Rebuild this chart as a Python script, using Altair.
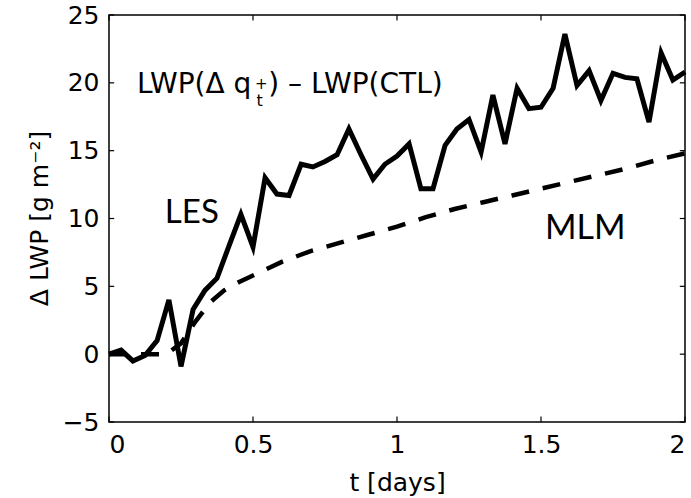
import altair as alt
import pandas as pd

# LES: LWP(dq+) - LWP(CTL), hourly values
les_t = [0, 0.042, 0.083, 0.125, 0.167, 0.208, 0.25, 0.292, 0.333, 0.375, 0.417, 0.458,
         0.5, 0.542, 0.583, 0.625, 0.667, 0.708, 0.75, 0.792, 0.833, 0.875, 0.917, 0.958,
         1.0, 1.042, 1.083, 1.125, 1.167, 1.208, 1.25, 1.292, 1.333, 1.375, 1.417, 1.458,
         1.5, 1.542, 1.583, 1.625, 1.667, 1.708, 1.75, 1.792, 1.833, 1.875, 1.917, 1.958, 2.0]
les_v = [0, 0.3, -0.5, -0.1, 1.0, 4.0, -0.9, 3.3, 4.7, 5.6, 8.0, 10.3,
         7.9, 13.0, 11.8, 11.7, 14.0, 13.8, 14.2, 14.7, 16.6, 14.7, 12.9, 14.0,
         14.6, 15.5, 12.2, 12.2, 15.4, 16.6, 17.3, 14.9, 19.1, 15.5, 19.6, 18.1,
         18.2, 19.6, 23.6, 19.8, 20.9, 18.7, 20.7, 20.4, 20.3, 17.1, 22.2, 20.2, 20.8]

# MLM curve
mlm_t = [0, 0.1, 0.2, 0.25, 0.3, 0.35, 0.4, 0.45, 0.5, 0.6, 0.7, 0.8, 0.9, 1.0,
         1.1, 1.2, 1.3, 1.4, 1.5, 1.6, 1.7, 1.8, 1.9, 2.0]
mlm_v = [0, 0, 0, 0.8, 2.4, 3.8, 4.7, 5.3, 5.8, 6.8, 7.6, 8.2, 8.8, 9.4,
         10.1, 10.7, 11.2, 11.7, 12.2, 12.7, 13.2, 13.7, 14.3, 14.8]

x_ticks = [0, 0.5, 1, 1.5, 2]
y_ticks = [-5, 0, 5, 10, 15, 20, 25]

les = pd.DataFrame({"t": les_t, "v": les_v})
mlm = pd.DataFrame({"t": mlm_t, "v": mlm_v})

xs = alt.Scale(domain=[0, 2], nice=False, zero=False)
ys = alt.Scale(domain=[-5, 25], nice=False, zero=False)

lab = "replace(toString(datum.value), '-', '\u2212')"

base_x = alt.X("t:Q", scale=xs,
               axis=alt.Axis(values=x_ticks, labelExpr=lab, title="t [days]",
                             titleY=68, titleBaseline="alphabetic", labelPadding=10))
base_y = alt.Y("v:Q", scale=ys,
               axis=alt.Axis(values=y_ticks, labelExpr=lab, title="\u0394 LWP [g m\u207b\u00b2]",
                             titleX=-70, titleY=203, titleBaseline="middle", titleAlign="center",
                             labelPadding=10))

les_line = alt.Chart(les).mark_line(color="black", strokeWidth=5, strokeJoin="miter").encode(
    x=base_x, y=base_y)
mlm_line = alt.Chart(mlm).mark_line(color="black", strokeWidth=4.5, strokeDash=[18, 14]).encode(
    x="t:Q", y="v:Q")

# inward tick marks on all four sides (MATLAB box style)
xt = pd.DataFrame({"t": x_ticks})
yt = pd.DataFrame({"v": y_ticks})
tk = 0.4  # tick length in y units
tkx = 0.018  # tick length in x units
xb = alt.Chart(xt).mark_rule(color="black", strokeWidth=1.2).encode(
    x="t:Q", y=alt.datum(-5), y2=alt.datum(-5 + tk))
xtop = alt.Chart(xt).mark_rule(color="black", strokeWidth=1.2).encode(
    x="t:Q", y=alt.datum(25), y2=alt.datum(25 - tk))
yl = alt.Chart(yt).mark_rule(color="black", strokeWidth=1.2).encode(
    y="v:Q", x=alt.datum(0), x2=alt.datum(tkx))
yr = alt.Chart(yt).mark_rule(color="black", strokeWidth=1.2).encode(
    y="v:Q", x=alt.datum(2), x2=alt.datum(2 - tkx))

def txt(label, x, y, size, font="DejaVu Sans", baseline="alphabetic"):
    return alt.Chart(pd.DataFrame({"t": [x], "v": [y], "s": [label]})).mark_text(
        align="left", baseline=baseline, font=font, fontSize=size, color="black"
    ).encode(x="t:Q", y="v:Q", text="s:N")

ann = (txt("LWP(\u0394 q", 0.097, 19.25, 28)
       + txt("+", 0.507, 19.95, 15, baseline="middle")
       + txt("t", 0.512, 18.3, 16)
       + txt(") \u2013 LWP(CTL)", 0.553, 19.25, 28)
       + txt("LES", 0.194, 9.67, 33, font="Lato")
       + txt("MLM", 1.514, 8.5, 34, font="Lato"))

chart = alt.layer(les_line, mlm_line, xb, xtop, yl, yr, ann).properties(
    width=576, height=407,
    autosize=alt.AutoSizeParams(type="none"),
    padding={"left": 109, "top": 15, "right": 6, "bottom": 76},
    background="white",
).configure_view(stroke="black", strokeWidth=1.5).configure_axis(
    grid=False, ticks=False, domain=False,
    labelFont="DejaVu Sans", labelFontSize=25, labelColor="black",
    titleFont="DejaVu Sans", titleFontSize=25, titleFontWeight="normal", titleColor="black",
)

chart.save("out.html", embed_options={"renderer": "svg", "actions": False})
